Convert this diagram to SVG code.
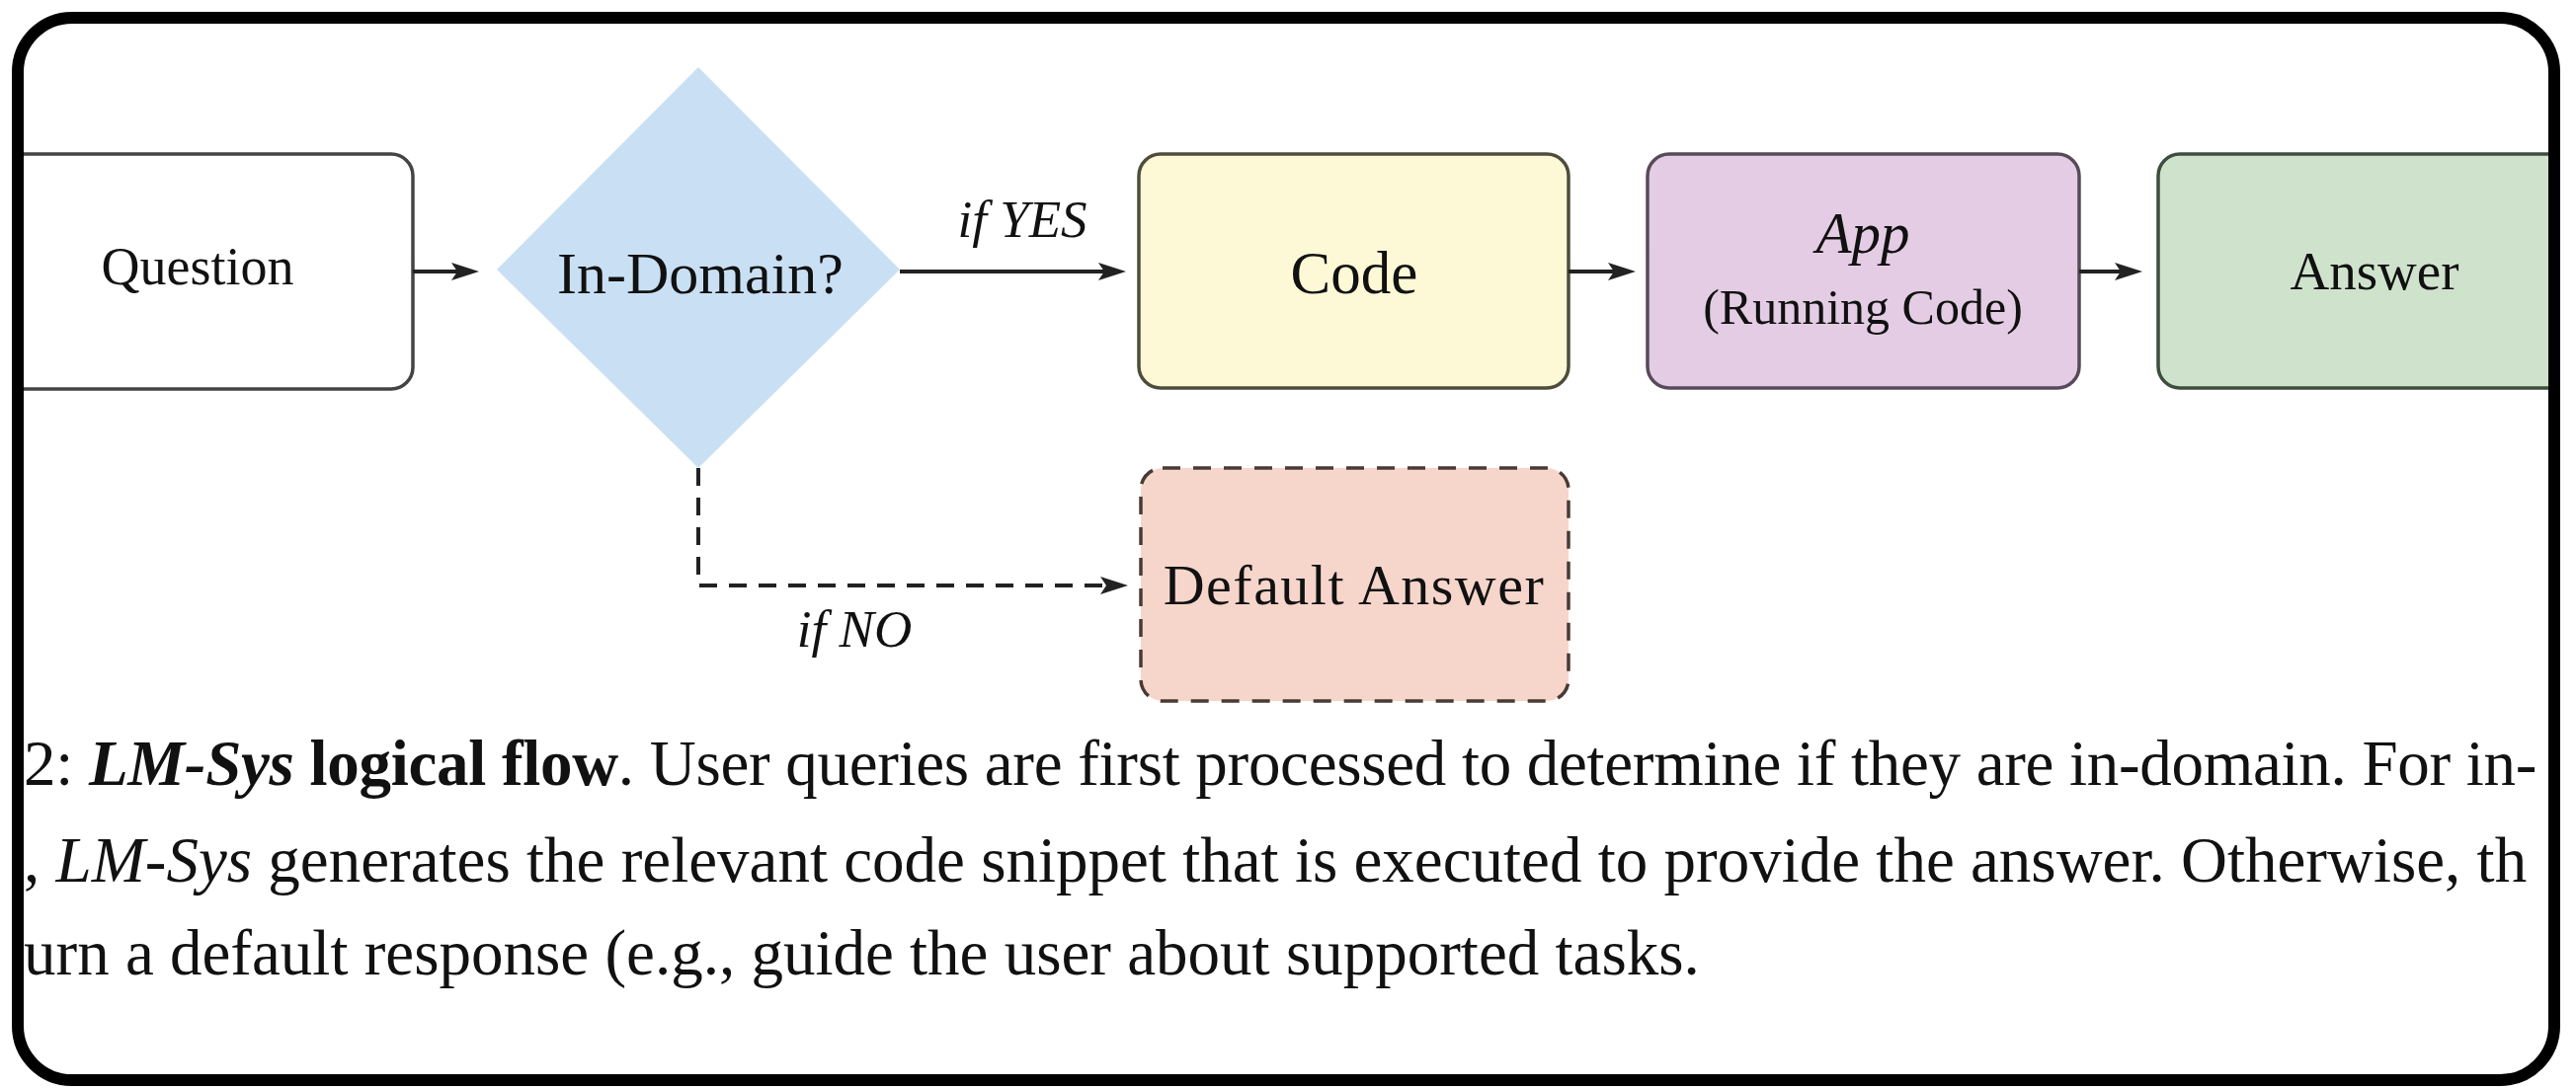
<svg xmlns="http://www.w3.org/2000/svg" width="2608" height="1104" viewBox="0 0 2608 1104">
  <style>
    .t { font-family: "Liberation Serif", "Times New Roman", serif; fill: #111; text-anchor: middle; }
    .it { font-style: italic; }
    .cap { font-family: "Liberation Serif", "Times New Roman", serif; fill: #111; font-size: 65px; }
    .conn { fill: none; stroke: #222; stroke-width: 4; }
    .dash { stroke-dasharray: 18 12; }
    .box { stroke-width: 3.5; }
  </style>
  <defs>
    <marker id="arr" viewBox="0 0 28 20" refX="20" refY="10" markerWidth="28" markerHeight="20" markerUnits="userSpaceOnUse" orient="auto">
      <path d="M0,1 L28,10 L0,19 L6,10 Z" fill="#222"/>
    </marker>
    <clipPath id="inner">
      <rect x="24" y="24" width="2556" height="1064" rx="48"/>
    </clipPath>
  </defs>
  <rect x="0" y="0" width="2608" height="1104" fill="#fff"/>
  <g clip-path="url(#inner)">
    <g id="node-question">
      <rect class="box" x="-20" y="156" width="438" height="238" rx="22" fill="#fff" stroke="#444"/>
      <text class="t" x="200" y="288" font-size="54">Question</text>
    </g>
    <g id="node-indomain">
      <polygon points="707,68 911,273 707,474 503,273" fill="#c9e0f4"/>
      <text class="t" x="709" y="297" font-size="60" fill="#17202e">In-Domain?</text>
    </g>
    <g id="node-code">
      <rect class="box" x="1153" y="156" width="435" height="237" rx="22" fill="#fdf9d6" stroke="#4e4d3c"/>
      <text class="t" x="1371" y="297" font-size="61">Code</text>
    </g>
    <g id="node-app">
      <rect class="box" x="1668" y="156" width="437" height="237" rx="22" fill="#e4cde4" stroke="#584a58"/>
      <text class="t it" x="1886" y="256" font-size="59">App</text>
      <text class="t" x="1886" y="328" font-size="50">(Running Code)</text>
    </g>
    <g id="node-answer">
      <rect class="box" x="2185" y="156" width="437" height="237" rx="22" fill="#cfe3cc" stroke="#3e4e3e"/>
      <text class="t" x="2404" y="293" font-size="55">Answer</text>
    </g>
    <g id="node-default">
      <rect class="box" x="1155" y="474" width="433" height="236" rx="22" fill="#f6d6cb" stroke="#4a3a35" stroke-dasharray="18 13" stroke-width="4"/>
      <text class="t" x="1371" y="612" font-size="58" letter-spacing="1.5">Default Answer</text>
    </g>
    <g id="connectors">
      <line class="conn" x1="418" y1="275" x2="477" y2="275" marker-end="url(#arr)"/>
      <line class="conn" x1="911" y1="275" x2="1132" y2="275" marker-end="url(#arr)"/>
      <line class="conn" x1="1588" y1="275" x2="1648" y2="275" marker-end="url(#arr)"/>
      <line class="conn" x1="2105" y1="275" x2="2161" y2="275" marker-end="url(#arr)"/>
      <path class="conn dash" d="M707,474 L707,593 L1134,593" marker-end="url(#arr)"/>
      <text class="t it" x="1035" y="240" font-size="53">if YES</text>
      <text class="t it" x="865" y="655" font-size="53">if NO</text>
    </g>
    <g id="caption">
      <text class="cap" x="24" y="795" letter-spacing="-0.3">2: <tspan font-weight="bold" font-style="italic">LM-Sys</tspan><tspan font-weight="bold"> logical flow</tspan>. User queries are first processed to determine if they are in-domain. For in-</text>
      <text class="cap" x="24" y="893">, <tspan font-style="italic">LM-Sys</tspan> generates the relevant code snippet that is executed to provide the answer. Otherwise, th</text>
      <text class="cap" x="24" y="987">urn a default response (e.g., guide the user about supported tasks.</text>
    </g>
  </g>
  <rect id="frame" x="18" y="18" width="2568" height="1076" rx="55" fill="none" stroke="#000" stroke-width="12"/>
</svg>
